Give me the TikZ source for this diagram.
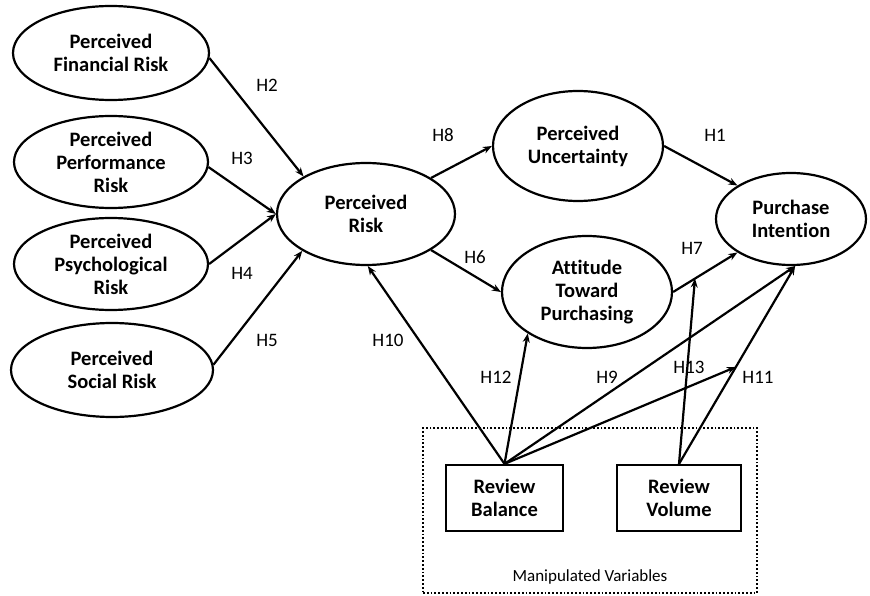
\documentclass[tikz,border=0pt]{standalone}
\usepackage{fontspec}
\setmainfont{Carlito}[Ligatures=NoCommon]
\usetikzlibrary{shapes.geometric,arrows.meta,calc}
\tikzset{
  var/.style={ellipse, draw, line width=2.2pt, inner sep=0pt, align=center,
    font=\fontsize{20.5}{23}\selectfont\bfseries},
  box/.style={rectangle, draw, line width=2.2pt, inner sep=0pt, align=center,
    font=\fontsize{20.5}{23}\selectfont\bfseries},
  arr/.style={line width=2.2pt, -{Stealth[length=9pt,width=7pt]}},
  hlab/.style={font=\fontsize{19}{21}\selectfont, inner sep=0pt}
}
\begin{document}
\begin{tikzpicture}[x=1pt,y=-1pt]
\useasboundingbox (0,0) rectangle (870,596);
% ellipses
\node[var, minimum width=196pt, minimum height=94pt] (FR) at (111,53) {Perceived\\Financial Risk};
\node[var, minimum width=194pt, minimum height=92pt] (PF) at (111,162) {Perceived\\Performance\\Risk};
\node[var, minimum width=194pt, minimum height=92pt] (PS) at (111,264) {Perceived\\Psychological\\Risk};
\node[var, minimum width=202pt, minimum height=94pt] (SR) at (112,370) {Perceived\\Social Risk};
\node[var, minimum width=178pt, minimum height=102pt] (PR) at (366,214) {Perceived\\Risk};
\node[var, minimum width=170pt, minimum height=110pt] (PU) at (578,146) {Perceived\\Uncertainty};
\node[var, minimum width=170pt, minimum height=112pt] (AT) at (587,292) {Attitude\\Toward\\Purchasing};
\node[var, minimum width=150pt, minimum height=92pt] (PI) at (791,219) {Purchase\\Intention};
% manipulated variables
\node[draw, dotted, line width=1.8pt, minimum width=334pt, minimum height=165pt, inner sep=0pt] (MV) at (590,510.5) {};
\node[font=\fontsize{17}{19}\selectfont, inner sep=0pt] (MVL) at (590,577) {Manipulated Variables};
\node[box, minimum width=117pt, minimum height=66pt] (RB) at (504.5,498) {Review\\Balance};
\node[box, minimum width=124pt, minimum height=66pt] (RV) at (679,498) {Review\\Volume};
% moderation points
\coordinate (M13) at ($(AT.east)!0.34!(PI.212)$);
\coordinate (M11) at ($(RV.north)!0.49!(PI.275)$);
% arrows
\draw[arr] (FR.-3) -- (PR.149);
\draw[arr] (PF.-3) -- (PR.180);
\draw[arr] (PS.east) -- (PR.180);
\draw[arr] (SR.3) -- (PR.210);
\draw[arr] (PR.29) -- (PU.180);
\draw[arr] (PR.-29) -- (AT.180);
\draw[arr] (PU.east) -- (PI.148);
\draw[arr] (AT.east) -- (PI.212);
\draw[arr] (RB.north) -- (PR.272);
\draw[arr] (RB.north) -- (AT.215);
\draw[arr] (RB.north) -- (PI.275);
\draw[arr] (RB.north) -- (M11);
\draw[arr] (RV.north) -- (PI.275);
\draw[arr] (RV.north) -- (M13);
% labels
\node[hlab] (H2) at (267,85) {H2};
\node[hlab] (H3) at (242,158) {H3};
\node[hlab] (H4) at (242,273) {H4};
\node[hlab] (H5) at (267,340) {H5};
\node[hlab] (H8) at (443,135) {H8};
\node[hlab] (H6) at (475,257) {H6};
\node[hlab] (H10) at (388,340) {H10};
\node[hlab] (H1) at (715,135) {H1};
\node[hlab] (H7) at (692,248) {H7};
\node[hlab] (H12) at (496,377) {H12};
\node[hlab] (H9) at (607,377) {H9};
\node[hlab] (H13) at (689,367) {H13};
\node[hlab] (H11) at (758,377) {H11};
\end{tikzpicture}
\end{document}
